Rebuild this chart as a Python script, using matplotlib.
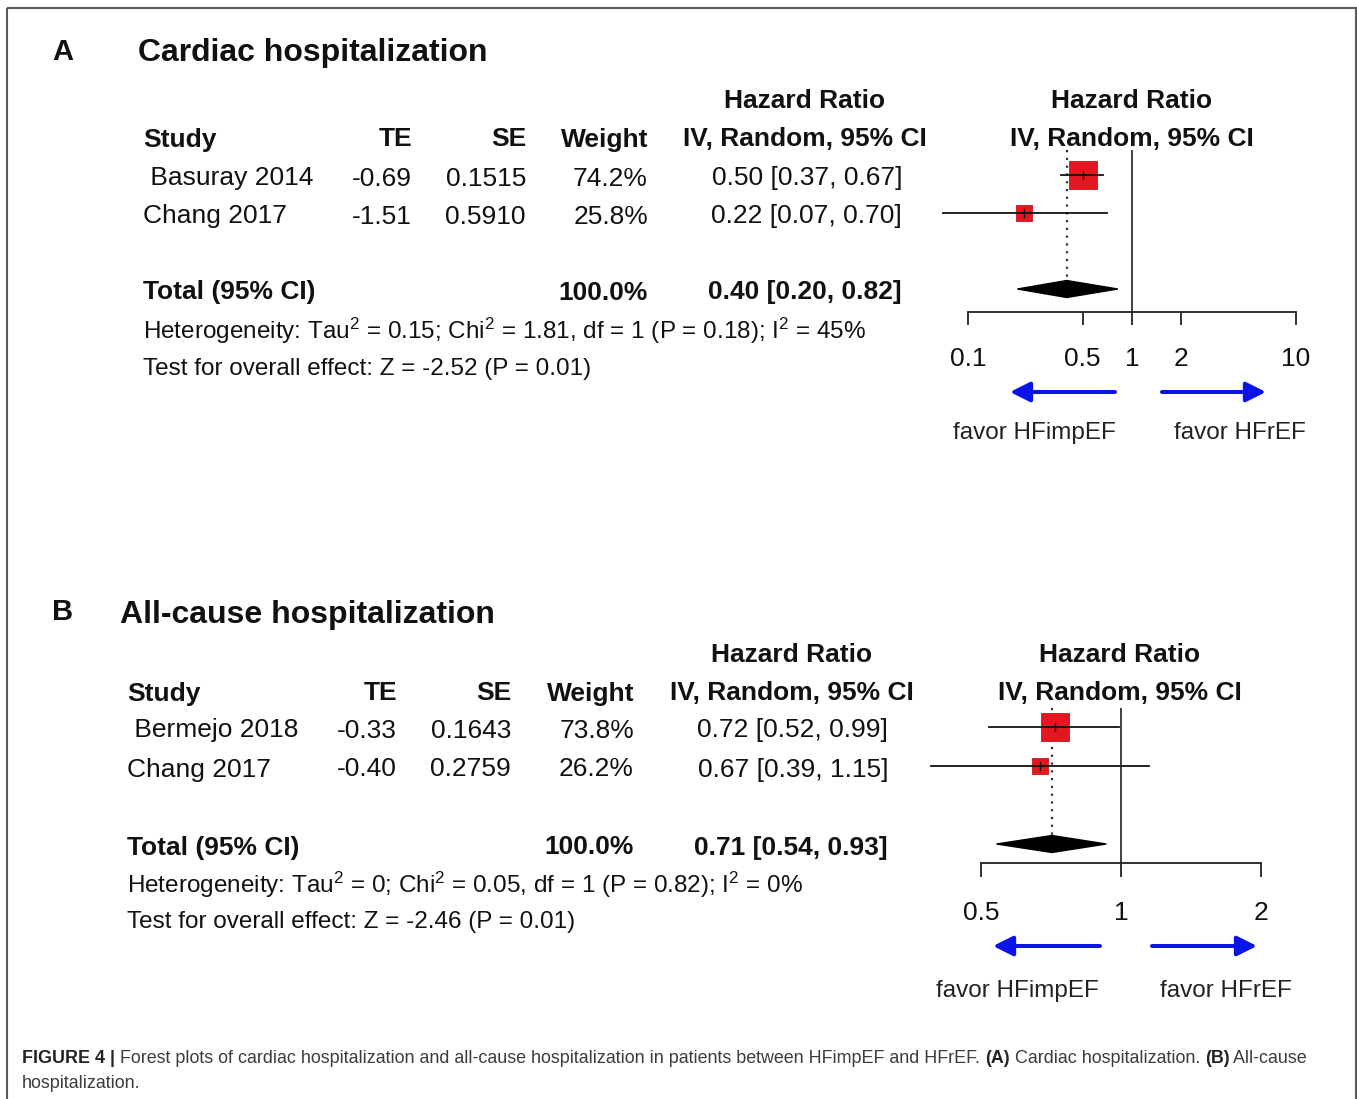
import matplotlib
matplotlib.use("Agg")
import matplotlib.pyplot as plt
from matplotlib.patches import Rectangle, Polygon
import numpy as np

plt.rcParams['font.family'] = ['Liberation Sans', 'DejaVu Sans']
plt.rcParams['mathtext.fontset'] = 'custom'
plt.rcParams['mathtext.rm'] = 'Liberation Sans'
plt.rcParams['mathtext.it'] = 'Liberation Sans:italic'
plt.rcParams['mathtext.bf'] = 'Liberation Sans:bold'

W, H, DPI = 1357, 1099, 100

# ---- Panel A: cardiac hospitalization ----
a_letter = "A"
a_title = "Cardiac hospitalization"
a_studies = [" Basuray 2014", "Chang 2017"]
a_te = [-0.69, -1.51]
a_se = [0.1515, 0.5910]
a_weight = [74.2, 25.8]
a_hr = [0.50, 0.22]
a_lo = [0.37, 0.07]
a_hi = [0.67, 0.70]
a_total = [0.40, 0.20, 0.82]
a_het = "Heterogeneity: Tau$^2$ = 0.15; Chi$^2$ = 1.81, df = 1 (P = 0.18); I$^2$ = 45%"
a_test = "Test for overall effect: Z = -2.52 (P = 0.01)"
a_ticks = [0.1, 0.5, 1, 2, 10]
a_ticklabels = ["0.1", "0.5", "1", "2", "10"]
a_xlim = (0.1, 10)

# ---- Panel B: all-cause hospitalization ----
b_letter = "B"
b_title = "All-cause hospitalization"
b_studies = [" Bermejo 2018", "Chang 2017"]
b_te = [-0.33, -0.40]
b_se = [0.1643, 0.2759]
b_weight = [73.8, 26.2]
b_hr = [0.72, 0.67]
b_lo = [0.52, 0.39]
b_hi = [0.99, 1.15]
b_total = [0.71, 0.54, 0.93]
b_het = "Heterogeneity: Tau$^2$ = 0; Chi$^2$ = 0.05, df = 1 (P = 0.82); I$^2$ = 0%"
b_test = "Test for overall effect: Z = -2.46 (P = 0.01)"
b_ticks = [0.5, 1, 2]
b_ticklabels = ["0.5", "1", "2"]
b_xlim = (0.5, 2)

col_headers = ["Study", "TE", "SE", "Weight"]
effect_header = ["Hazard Ratio", "IV, Random, 95% CI"]
total_label = "Total (95% CI)"
favor_labels = ["favor HFimpEF", "favor HFrEF"]

caption_line1 = [("FIGURE 4 |", "bold"),
                 (" Forest plots of cardiac hospitalization and all-cause hospitalization "
                  "in patients between HFimpEF and HFrEF. ", "normal"),
                 ("(A)", "bold"), (" Cardiac hospitalization. ", "normal"),
                 ("(B)", "bold"), (" All-cause", "normal")]
caption_line2 = "hospitalization."

TEXT = "#111111"
BOX_RED = "#e3171f"
ARROW_BLUE = "#0a14e6"

fig = plt.figure(figsize=(W / DPI, H / DPI), dpi=DPI)
bg = fig.add_axes([0, 0, 1, 1])
bg.set_xlim(0, W)
bg.set_ylim(H, 0)
bg.axis("off")

# outer frame
bg.add_patch(Rectangle((7, 8), 1349, 1200, fill=False, edgecolor="#5a5a5a",
                       lw=1.5, clip_on=False))


def put(x, yc, s, size, bold=False, ha="left", color=TEXT):
    bg.text(x, yc + 0.36 * size * DPI / 72, s, fontsize=size,
            fontweight="bold" if bold else "normal", ha=ha, va="baseline",
            color=color)


def arrow(x_tail, x_head, y):
    bg.annotate("", xy=(x_head, y), xytext=(x_tail, y),
                arrowprops=dict(arrowstyle="-|>", color=ARROW_BLUE, lw=2.9,
                                mutation_scale=30, shrinkA=0, shrinkB=0))


def panel(letter, title, studies, te, se, weight, hr, lo, hi, total, het, test,
          ticks, ticklabels, xlim, L):
    fs = 19
    put(L["letter_x"], L["title_y"] - 1, letter, 21, bold=True)
    put(L["title_x"], L["title_y"], title, 23, bold=True)

    # table headers
    put(L["ci_hdr_x"], L["hdr1_y"], effect_header[0], fs, True, "center")
    put(L["plot_hdr_x"], L["hdr1_y"], effect_header[0], fs, True, "center")
    put(L["study_x"], L["hdr2_y"], col_headers[0], fs, True)
    put(L["te_x"], L["hdr2_y"], col_headers[1], fs, True, "right")
    put(L["se_x"], L["hdr2_y"], col_headers[2], fs, True, "right")
    put(L["w_x"], L["hdr2_y"], col_headers[3], fs, True, "right")
    put(L["ci_hdr_x"], L["hdr2_y"], effect_header[1], fs, True, "center")
    put(L["plot_hdr_x"], L["hdr2_y"], effect_header[1], fs, True, "center")

    # study rows
    r0, step = L["row0"], L["step"]
    for i in range(len(studies)):
        y = r0 + i * step + 1
        put(L["study_x"], y, studies[i], fs)
        put(L["te_x"], y, f"{te[i]:.2f}", fs, ha="right")
        put(L["se_x"], y, f"{se[i]:.4f}", fs, ha="right")
        put(L["w_x"], y, f"{weight[i]:.1f}%", fs, ha="right")
        put(L["ci_x"], y, f"{hr[i]:.2f} [{lo[i]:.2f}, {hi[i]:.2f}]", fs, ha="right")

    ty = r0 + 3 * step + 1
    put(L["study_x"], ty, total_label, fs, True)
    put(L["w_x"], ty, f"{sum(weight):.1f}%", fs, True, "right")
    put(L["ci_x"], ty, f"{total[0]:.2f} [{total[1]:.2f}, {total[2]:.2f}]", fs, True, "right")
    put(L["study_x"], L["het_y"], het, 17.5)
    put(L["study_x"], L["test_y"], test, 17.5)

    # forest plot axes, log scale
    x0, x1 = L["ax_px"]
    vtop, axy = L["vtop"], L["axis_y"]
    ax = fig.add_axes([x0 / W, 1 - axy / H, (x1 - x0) / W, (axy - vtop) / H])
    ax.set_xscale("log")
    ax.set_xlim(*xlim)
    ax.set_ylim((axy - r0) / step, (vtop - r0) / step)
    ax.patch.set_alpha(0)
    for side in ("top", "left", "right"):
        ax.spines[side].set_visible(False)
    ax.spines["bottom"].set_linewidth(1.3)
    ax.spines["bottom"].set_color("#222222")
    ax.set_yticks([])
    ax.set_xticks(ticks)
    ax.set_xticklabels(ticklabels)
    ax.xaxis.set_minor_locator(matplotlib.ticker.NullLocator())
    ax.tick_params(axis="x", direction="out", length=L["tick_len"] * 0.72,
                   width=1.3, color="#222222", pad=L["pad"], labelsize=19,
                   labelcolor=TEXT)

    ax.axvline(1, color="#333333", lw=1.3, zorder=1)
    ylo = (vtop - r0) / step
    ax.plot([total[0], total[0]], [ylo, 3], ls=(0, (1, 2.5)), color="#333333",
            lw=1.6, zorder=1)

    k = 3.3 * 0.72  # square side in points per sqrt(weight %)
    for i in range(len(studies)):
        ax.scatter([hr[i]], [i], marker="s", s=(k * np.sqrt(weight[i])) ** 2,
                   color=BOX_RED, edgecolor="#c8141a", linewidth=0.6, zorder=3,
                   clip_on=False)
        ax.plot([lo[i], hi[i]], [i, i], color="#111111", lw=1.3, zorder=4,
                clip_on=False)
        ax.plot([hr[i], hr[i]], [i - 0.1, i + 0.1], color="#111111", lw=1.0,
                zorder=4, clip_on=False)

    hh = 8.5 / step
    ax.add_patch(Polygon([(total[1], 3), (total[0], 3 - hh), (total[2], 3),
                          (total[0], 3 + hh)], closed=True, color="black",
                         zorder=3, clip_on=False))

    # direction arrows and labels
    arrow(L["arr_l"][0], L["arr_l"][1], L["arrow_y"])
    arrow(L["arr_r"][0], L["arr_r"][1], L["arrow_y"])
    put(L["fav_x"][0], L["fav_y"], favor_labels[0], 17.5, ha="center", color="#222222")
    put(L["fav_x"][1], L["fav_y"], favor_labels[1], 17.5, ha="center", color="#222222")


layout_a = dict(letter_x=52, title_x=138, title_y=50, hdr1_y=99, hdr2_y=137,
                row0=175, step=38, het_y=330, test_y=366, study_x=143,
                te_x=412, se_x=526, w_x=648, ci_x=902, ci_hdr_x=805,
                plot_hdr_x=1132, ax_px=(968, 1296), vtop=150, axis_y=312,
                tick_len=13, pad=16, arr_l=(1115, 1010), arr_r=(1162, 1266),
                arrow_y=392, fav_y=430, fav_x=(1034, 1240))
layout_b = dict(letter_x=52, title_x=120, title_y=611, hdr1_y=652, hdr2_y=691,
                row0=727, step=39, het_y=884, test_y=919, study_x=127,
                te_x=397, se_x=511, w_x=634, ci_x=888, ci_hdr_x=792,
                plot_hdr_x=1120, ax_px=(981, 1261), vtop=708, axis_y=863,
                tick_len=14, pad=17, arr_l=(1100, 993), arr_r=(1152, 1257),
                arrow_y=946, fav_y=988, fav_x=(1017, 1226))

panel(a_letter, a_title, a_studies, a_te, a_se, a_weight, a_hr, a_lo, a_hi,
      a_total, a_het, a_test, a_ticks, a_ticklabels, a_xlim, layout_a)
panel(b_letter, b_title, b_studies, b_te, b_se, b_weight, b_hr, b_lo, b_hi,
      b_total, b_het, b_test, b_ticks, b_ticklabels, b_xlim, layout_b)

# caption, with bold runs placed one after another
renderer = fig.canvas.get_renderer()
cap_fs = 12.9
x = 22
yb = 1057 + 0.36 * cap_fs * DPI / 72
for seg, wt in caption_line1:
    t = bg.text(x, yb, seg, fontsize=cap_fs, fontweight=wt, va="baseline",
                ha="left", color="#222222" if wt == "bold" else "#3c3c3c")
    bb = t.get_window_extent(renderer=renderer)
    x += bb.width
bg.text(22, 1082 + 0.36 * cap_fs * DPI / 72, caption_line2, fontsize=cap_fs,
        va="baseline", ha="left", color="#3c3c3c")

fig.savefig("out.png", dpi=DPI)
